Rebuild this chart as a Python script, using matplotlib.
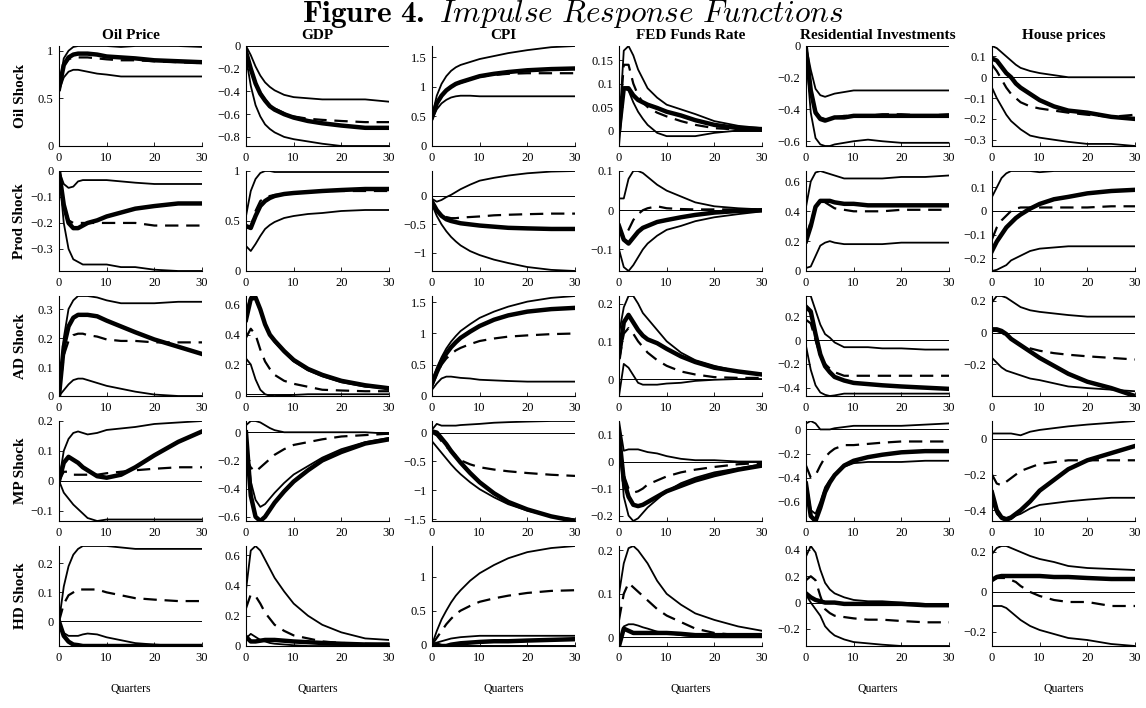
import matplotlib
matplotlib.use('Agg')
import matplotlib.pyplot as plt
from matplotlib.ticker import FuncFormatter

plt.rcParams['font.family'] = ['Liberation Serif', 'DejaVu Serif']
plt.rcParams['mathtext.fontset'] = 'custom'
plt.rcParams['mathtext.rm'] = 'cmr10'
plt.rcParams['mathtext.it'] = 'cmmi10'
plt.rcParams['mathtext.bf'] = 'cmb10'
plt.rcParams['axes.unicode_minus'] = True

quarters = [0, 1, 2, 3, 4, 5, 6, 8, 10, 13, 16, 20, 25, 30]
variables = ['Oil Price', 'GDP', 'CPI', 'FED Funds Rate',
             'Residential Investments', 'House prices']
shock_names = ['Oil Shock', 'Prod Shock', 'AD Shock', 'MP Shock', 'HD Shock']

# each shock: one list per variable (Oil Price ... House prices)
# mid = thick solid, alt = dashed, hi / lo = thin solid bands

# --- oil shock ---
oil_mid = [
    [0.6, 0.85, 0.93, 0.96, 0.97, 0.97, 0.97, 0.96, 0.94, 0.93, 0.92, 0.90, 0.89, 0.88],
    [-0.05, -0.2, -0.33, -0.42, -0.48, -0.53, -0.56, -0.60, -0.63, -0.66, -0.68, -0.70, -0.72, -0.72],
    [0.48, 0.72, 0.85, 0.94, 1.0, 1.05, 1.08, 1.13, 1.18, 1.22, 1.25, 1.28, 1.30, 1.31],
    [0.0, 0.09, 0.09, 0.075, 0.065, 0.06, 0.055, 0.048, 0.04, 0.032, 0.022, 0.012, 0.005, 0.003],
    [-0.02, -0.28, -0.42, -0.46, -0.47, -0.46, -0.45, -0.45, -0.44, -0.44, -0.44, -0.44, -0.44, -0.44],
    [0.09, 0.08, 0.05, 0.02, 0.0, -0.03, -0.05, -0.08, -0.11, -0.14, -0.16, -0.17, -0.19, -0.20],
]
oil_alt = [
    [0.6, 0.85, 0.91, 0.93, 0.93, 0.93, 0.93, 0.92, 0.91, 0.90, 0.90, 0.89, 0.88, 0.87],
    [-0.05, -0.2, -0.32, -0.41, -0.47, -0.52, -0.55, -0.59, -0.62, -0.64, -0.65, -0.66, -0.67, -0.67],
    [0.48, 0.72, 0.85, 0.93, 1.0, 1.04, 1.07, 1.12, 1.17, 1.20, 1.22, 1.23, 1.23, 1.23],
    [0.0, 0.14, 0.14, 0.10, 0.075, 0.06, 0.05, 0.038, 0.03, 0.02, 0.012, 0.005, 0.002, 0.002],
    [-0.02, -0.27, -0.41, -0.45, -0.46, -0.46, -0.45, -0.44, -0.44, -0.44, -0.43, -0.43, -0.44, -0.43],
    [0.06, 0.03, -0.01, -0.05, -0.08, -0.10, -0.12, -0.14, -0.15, -0.16, -0.17, -0.18, -0.19, -0.18],
]
oil_hi = [
    [0.62, 0.92, 1.0, 1.04, 1.05, 1.05, 1.05, 1.05, 1.05, 1.04, 1.05, 1.05, 1.05, 1.04],
    [0.0, -0.08, -0.18, -0.26, -0.32, -0.36, -0.39, -0.43, -0.45, -0.46, -0.47, -0.47, -0.47, -0.49],
    [0.5, 0.85, 1.05, 1.18, 1.27, 1.33, 1.37, 1.42, 1.47, 1.52, 1.57, 1.62, 1.67, 1.69],
    [0.0, 0.17, 0.18, 0.16, 0.13, 0.11, 0.09, 0.07, 0.055, 0.045, 0.035, 0.02, 0.01, 0.005],
    [0.0, -0.15, -0.27, -0.31, -0.32, -0.31, -0.30, -0.29, -0.28, -0.28, -0.28, -0.28, -0.28, -0.28],
    [0.15, 0.14, 0.12, 0.10, 0.08, 0.06, 0.045, 0.03, 0.02, 0.01, 0.0, 0.0, 0.0, 0.0],
]
oil_lo = [
    [0.58, 0.72, 0.78, 0.80, 0.80, 0.79, 0.78, 0.76, 0.75, 0.73, 0.73, 0.73, 0.73, 0.73],
    [-0.1, -0.35, -0.52, -0.62, -0.69, -0.73, -0.76, -0.80, -0.82, -0.84, -0.86, -0.88, -0.88, -0.88],
    [0.45, 0.62, 0.72, 0.78, 0.82, 0.84, 0.85, 0.85, 0.84, 0.84, 0.84, 0.84, 0.84, 0.84],
    [-0.033, 0.09, 0.085, 0.06, 0.04, 0.025, 0.012, -0.005, -0.012, -0.012, -0.012, -0.005, 0.0, 0.0],
    [-0.05, -0.42, -0.58, -0.62, -0.63, -0.63, -0.62, -0.61, -0.60, -0.59, -0.60, -0.61, -0.61, -0.61],
    [-0.05, -0.10, -0.14, -0.18, -0.21, -0.23, -0.25, -0.28, -0.29, -0.30, -0.31, -0.32, -0.32, -0.33],
]
oil_ticks = [[0, 0.5, 1], [-0.8, -0.6, -0.4, -0.2, 0], [0, 0.5, 1, 1.5],
             [0, 0.05, 0.1, 0.15], [-0.6, -0.4, -0.2, 0], [-0.3, -0.2, -0.1, 0, 0.1]]

# --- productivity shock ---
prod_mid = [
    [0.0, -0.13, -0.2, -0.22, -0.22, -0.21, -0.2, -0.19, -0.175, -0.16, -0.145, -0.135, -0.125, -0.125],
    [0.45, 0.43, 0.55, 0.65, 0.70, 0.73, 0.75, 0.77, 0.78, 0.79, 0.80, 0.81, 0.82, 0.82],
    [-0.1, -0.25, -0.35, -0.41, -0.44, -0.46, -0.48, -0.50, -0.52, -0.54, -0.56, -0.57, -0.58, -0.58],
    [-0.04, -0.075, -0.085, -0.07, -0.055, -0.045, -0.04, -0.03, -0.025, -0.018, -0.012, -0.006, -0.002, 0.0],
    [0.2, 0.3, 0.43, 0.47, 0.47, 0.47, 0.46, 0.45, 0.45, 0.44, 0.44, 0.44, 0.44, 0.44],
    [-0.17, -0.13, -0.10, -0.07, -0.05, -0.03, -0.015, 0.01, 0.03, 0.05, 0.06, 0.075, 0.085, 0.09],
]
prod_alt = [
    [0.0, -0.13, -0.19, -0.2, -0.2, -0.2, -0.2, -0.2, -0.2, -0.2, -0.2, -0.21, -0.21, -0.21],
    [0.45, 0.44, 0.60, 0.70, 0.73, 0.75, 0.76, 0.77, 0.78, 0.79, 0.80, 0.80, 0.80, 0.80],
    [-0.1, -0.25, -0.33, -0.37, -0.39, -0.39, -0.38, -0.37, -0.36, -0.34, -0.33, -0.32, -0.31, -0.31],
    [-0.04, -0.07, -0.05, -0.025, -0.01, 0.0, 0.005, 0.01, 0.005, 0.003, 0.002, 0.002, 0.002, 0.002],
    [0.23, 0.33, 0.43, 0.46, 0.46, 0.44, 0.42, 0.41, 0.40, 0.40, 0.40, 0.41, 0.41, 0.41],
    [-0.12, -0.07, -0.04, -0.02, 0.0, 0.01, 0.015, 0.015, 0.015, 0.015, 0.015, 0.015, 0.02, 0.02],
]
prod_hi = [
    [0.0, -0.05, -0.065, -0.06, -0.04, -0.035, -0.035, -0.035, -0.035, -0.04, -0.045, -0.05, -0.05, -0.05],
    [0.55, 0.8, 0.92, 0.98, 1.0, 1.0, 0.99, 0.99, 0.99, 0.99, 0.99, 0.99, 0.99, 0.99],
    [-0.05, -0.10, -0.07, -0.02, 0.02, 0.07, 0.12, 0.2, 0.27, 0.32, 0.36, 0.40, 0.43, 0.44],
    [0.03, 0.03, 0.08, 0.1, 0.1, 0.095, 0.085, 0.065, 0.05, 0.035, 0.02, 0.01, 0.005, 0.002],
    [0.43, 0.60, 0.66, 0.67, 0.66, 0.65, 0.64, 0.62, 0.62, 0.62, 0.62, 0.63, 0.63, 0.64],
    [0.06, 0.10, 0.14, 0.16, 0.17, 0.17, 0.17, 0.17, 0.165, 0.17, 0.17, 0.17, 0.17, 0.17],
]
prod_lo = [
    [0.0, -0.2, -0.3, -0.34, -0.35, -0.36, -0.36, -0.36, -0.36, -0.37, -0.37, -0.38, -0.385, -0.385],
    [0.25, 0.2, 0.27, 0.35, 0.42, 0.46, 0.49, 0.53, 0.55, 0.57, 0.58, 0.60, 0.61, 0.61],
    [-0.15, -0.35, -0.5, -0.62, -0.72, -0.8, -0.87, -0.97, -1.04, -1.12, -1.18, -1.25, -1.3, -1.32],
    [-0.1, -0.145, -0.155, -0.14, -0.12, -0.1, -0.085, -0.065, -0.05, -0.04, -0.028, -0.018, -0.01, -0.003],
    [0.02, 0.03, 0.1, 0.17, 0.19, 0.2, 0.19, 0.18, 0.18, 0.18, 0.18, 0.19, 0.19, 0.19],
    [-0.255, -0.25, -0.24, -0.23, -0.21, -0.2, -0.19, -0.17, -0.16, -0.155, -0.15, -0.15, -0.15, -0.15],
]
prod_ticks = [[-0.3, -0.2, -0.1, 0], [0, 0.5, 1], [-1, -0.5, 0],
              [-0.1, 0, 0.1], [0, 0.2, 0.4, 0.6], [-0.2, -0.1, 0, 0.1]]

# --- aggregate demand shock ---
ad_mid = [
    [0.0, 0.17, 0.24, 0.27, 0.28, 0.28, 0.28, 0.275, 0.26, 0.24, 0.22, 0.195, 0.17, 0.145],
    [0.5, 0.64, 0.65, 0.57, 0.47, 0.40, 0.36, 0.29, 0.23, 0.17, 0.13, 0.09, 0.06, 0.04],
    [0.2, 0.38, 0.55, 0.68, 0.78, 0.86, 0.93, 1.03, 1.12, 1.22, 1.29, 1.35, 1.39, 1.41],
    [0.06, 0.15, 0.17, 0.15, 0.13, 0.115, 0.105, 0.095, 0.08, 0.06, 0.045, 0.03, 0.02, 0.012],
    [0.28, 0.24, 0.05, -0.12, -0.22, -0.27, -0.31, -0.34, -0.36, -0.37, -0.38, -0.39, -0.40, -0.41],
    [0.02, 0.02, 0.01, -0.01, -0.04, -0.06, -0.08, -0.12, -0.16, -0.21, -0.26, -0.31, -0.35, -0.40],
]
ad_alt = [
    [0.0, 0.14, 0.19, 0.21, 0.215, 0.215, 0.21, 0.205, 0.195, 0.19, 0.19, 0.185, 0.185, 0.185],
    [0.38, 0.44, 0.40, 0.30, 0.22, 0.17, 0.13, 0.09, 0.07, 0.05, 0.03, 0.025, 0.02, 0.02],
    [0.15, 0.35, 0.50, 0.60, 0.67, 0.73, 0.77, 0.83, 0.88, 0.92, 0.95, 0.97, 0.99, 1.0],
    [0.05, 0.12, 0.135, 0.12, 0.10, 0.085, 0.07, 0.05, 0.035, 0.02, 0.012, 0.005, 0.003, 0.003],
    [0.17, 0.14, 0.0, -0.13, -0.2, -0.24, -0.27, -0.3, -0.3, -0.3, -0.3, -0.3, -0.3, -0.3],
    [0.01, 0.01, 0.0, -0.02, -0.04, -0.06, -0.08, -0.10, -0.115, -0.13, -0.14, -0.15, -0.16, -0.17],
]
ad_hi = [
    [0.0, 0.2, 0.3, 0.33, 0.345, 0.345, 0.345, 0.34, 0.33, 0.32, 0.32, 0.32, 0.325, 0.325],
    [0.55, 0.66, 0.64, 0.56, 0.47, 0.40, 0.35, 0.28, 0.22, 0.16, 0.12, 0.08, 0.05, 0.04],
    [0.25, 0.45, 0.62, 0.76, 0.87, 0.96, 1.04, 1.15, 1.25, 1.35, 1.43, 1.51, 1.57, 1.60],
    [0.12, 0.19, 0.22, 0.22, 0.20, 0.175, 0.16, 0.13, 0.10, 0.07, 0.05, 0.035, 0.02, 0.01],
    [0.37, 0.37, 0.25, 0.13, 0.05, 0.02, -0.02, -0.06, -0.06, -0.06, -0.07, -0.07, -0.08, -0.08],
    [0.19, 0.23, 0.23, 0.22, 0.20, 0.18, 0.16, 0.14, 0.13, 0.12, 0.11, 0.10, 0.10, 0.10],
]
ad_lo = [
    [0.0, 0.02, 0.04, 0.055, 0.06, 0.06, 0.055, 0.045, 0.035, 0.025, 0.015, 0.005, 0.0, 0.0],
    [0.24, 0.2, 0.1, 0.03, 0.0, -0.01, -0.012, -0.008, -0.005, 0.0, 0.0, 0.0, 0.0, 0.0],
    [0.1, 0.2, 0.28, 0.31, 0.31, 0.30, 0.29, 0.28, 0.26, 0.25, 0.24, 0.23, 0.23, 0.23],
    [-0.045, 0.04, 0.03, 0.01, -0.01, -0.015, -0.015, -0.015, -0.012, -0.01, -0.005, -0.002, 0.0, 0.0],
    [-0.05, -0.25, -0.38, -0.44, -0.46, -0.47, -0.465, -0.45, -0.45, -0.45, -0.45, -0.45, -0.45, -0.45],
    [-0.16, -0.19, -0.22, -0.24, -0.25, -0.26, -0.27, -0.29, -0.30, -0.32, -0.34, -0.35, -0.36, -0.37],
]
ad_ticks = [[0, 0.1, 0.2, 0.3], [0, 0.2, 0.4, 0.6], [0, 0.5, 1, 1.5],
            [0, 0.1, 0.2], [-0.4, -0.2, 0, 0.2], [-0.2, 0, 0.2]]

# --- monetary policy shock ---
mp_mid = [
    [0.0, 0.06, 0.08, 0.07, 0.06, 0.045, 0.035, 0.015, 0.01, 0.02, 0.045, 0.085, 0.13, 0.165],
    [0.0, -0.45, -0.6, -0.63, -0.6, -0.55, -0.5, -0.42, -0.35, -0.27, -0.2, -0.14, -0.08, -0.05],
    [0.02, 0.0, -0.1, -0.2, -0.32, -0.42, -0.52, -0.7, -0.86, -1.05, -1.2, -1.33, -1.45, -1.53],
    [0.1, -0.07, -0.13, -0.16, -0.165, -0.16, -0.15, -0.13, -0.11, -0.09, -0.07, -0.05, -0.03, -0.015],
    [-0.45, -0.72, -0.76, -0.65, -0.52, -0.44, -0.38, -0.3, -0.26, -0.23, -0.21, -0.19, -0.18, -0.18],
    [-0.3, -0.4, -0.44, -0.45, -0.44, -0.42, -0.4, -0.35, -0.29, -0.23, -0.17, -0.12, -0.08, -0.04],
]
mp_alt = [
    [0.0, 0.03, 0.03, 0.02, 0.02, 0.02, 0.02, 0.02, 0.025, 0.03, 0.035, 0.04, 0.045, 0.045],
    [-0.18, -0.25, -0.28, -0.25, -0.22, -0.19, -0.16, -0.12, -0.09, -0.07, -0.05, -0.03, -0.02, -0.01],
    [0.0, -0.05, -0.15, -0.25, -0.3, -0.4, -0.48, -0.55, -0.6, -0.64, -0.67, -0.7, -0.73, -0.75],
    [0.1, -0.05, -0.1, -0.115, -0.11, -0.1, -0.085, -0.07, -0.055, -0.04, -0.03, -0.02, -0.01, -0.005],
    [-0.3, -0.4, -0.38, -0.3, -0.23, -0.19, -0.16, -0.13, -0.13, -0.12, -0.11, -0.1, -0.1, -0.1],
    [-0.2, -0.25, -0.26, -0.24, -0.22, -0.2, -0.18, -0.16, -0.14, -0.13, -0.12, -0.12, -0.12, -0.12],
]
mp_hi = [
    [0.0, 0.1, 0.14, 0.16, 0.165, 0.16, 0.155, 0.16, 0.17, 0.175, 0.18, 0.19, 0.195, 0.2],
    [0.05, 0.08, 0.08, 0.07, 0.05, 0.03, 0.015, 0.0, 0.0, 0.0, 0.0, 0.0, 0.0, -0.01],
    [0.05, 0.15, 0.12, 0.12, 0.12, 0.12, 0.13, 0.14, 0.15, 0.17, 0.18, 0.19, 0.2, 0.2],
    [0.15, 0.04, 0.045, 0.045, 0.045, 0.04, 0.035, 0.03, 0.02, 0.01, 0.005, 0.005, 0.0, 0.0],
    [0.05, 0.07, 0.05, 0.0, 0.0, 0.0, 0.01, 0.02, 0.03, 0.03, 0.03, 0.03, 0.04, 0.05],
    [0.03, 0.03, 0.03, 0.03, 0.03, 0.025, 0.02, 0.04, 0.05, 0.06, 0.07, 0.08, 0.09, 0.1],
]
mp_lo = [
    [0.0, -0.04, -0.06, -0.08, -0.095, -0.11, -0.125, -0.135, -0.13, -0.13, -0.13, -0.13, -0.13, -0.13],
    [0.0, -0.35, -0.48, -0.53, -0.51, -0.47, -0.43, -0.36, -0.3, -0.24, -0.18, -0.12, -0.07, -0.04],
    [-0.15, -0.25, -0.35, -0.45, -0.55, -0.64, -0.72, -0.86, -0.98, -1.12, -1.24, -1.35, -1.45, -1.5],
    [0.1, -0.13, -0.2, -0.22, -0.21, -0.19, -0.17, -0.14, -0.11, -0.08, -0.06, -0.04, -0.025, -0.01],
    [-0.42, -0.67, -0.7, -0.6, -0.48, -0.42, -0.37, -0.31, -0.28, -0.27, -0.27, -0.27, -0.26, -0.26],
    [-0.35, -0.42, -0.45, -0.46, -0.45, -0.43, -0.42, -0.39, -0.37, -0.36, -0.35, -0.34, -0.33, -0.33],
]
mp_ticks = [[-0.1, 0, 0.1, 0.2], [-0.6, -0.4, -0.2, 0], [-1.5, -1, -0.5, 0],
            [-0.2, -0.1, 0, 0.1], [-0.6, -0.4, -0.2, 0], [-0.4, -0.2, 0]]

# --- housing demand shock ---
hd_mid = [
    [0.0, -0.05, -0.07, -0.08, -0.082, -0.085, -0.085, -0.085, -0.085, -0.085, -0.085, -0.085, -0.085, -0.085],
    [0.06, 0.03, 0.03, 0.035, 0.04, 0.04, 0.04, 0.035, 0.03, 0.025, 0.02, 0.015, 0.01, 0.01],
    [0.0, 0.0, -0.02, -0.02, 0.0, 0.01, 0.02, 0.03, 0.04, 0.05, 0.05, 0.06, 0.07, 0.08],
    [-0.02, 0.02, 0.015, 0.01, 0.01, 0.01, 0.01, 0.01, 0.01, 0.008, 0.005, 0.005, 0.005, 0.005],
    [0.07, 0.04, 0.02, 0.01, 0.0, 0.0, 0.0, -0.01, -0.01, -0.01, -0.01, -0.01, -0.02, -0.02],
    [0.06, 0.075, 0.08, 0.08, 0.08, 0.08, 0.08, 0.08, 0.08, 0.075, 0.075, 0.07, 0.065, 0.065],
]
hd_alt = [
    [0.0, 0.06, 0.09, 0.1, 0.11, 0.11, 0.11, 0.11, 0.1, 0.09, 0.08, 0.075, 0.07, 0.07],
    [0.25, 0.34, 0.33, 0.28, 0.22, 0.18, 0.14, 0.1, 0.07, 0.05, 0.03, 0.02, 0.015, 0.01],
    [0.0, 0.1, 0.2, 0.3, 0.38, 0.45, 0.5, 0.57, 0.63, 0.68, 0.72, 0.76, 0.79, 0.8],
    [0.04, 0.1, 0.125, 0.115, 0.105, 0.095, 0.085, 0.065, 0.05, 0.035, 0.02, 0.01, 0.005, 0.005],
    [0.17, 0.2, 0.17, 0.05, -0.05, -0.08, -0.1, -0.11, -0.12, -0.13, -0.13, -0.14, -0.15, -0.15],
    [0.06, 0.07, 0.07, 0.07, 0.06, 0.05, 0.03, 0.0, -0.02, -0.04, -0.05, -0.05, -0.07, -0.07],
]
hd_hi = [
    [0.0, 0.12, 0.19, 0.23, 0.25, 0.26, 0.26, 0.26, 0.26, 0.255, 0.25, 0.25, 0.25, 0.25],
    [0.37, 0.63, 0.66, 0.63, 0.57, 0.51, 0.45, 0.36, 0.28, 0.2, 0.14, 0.09, 0.05, 0.04],
    [0.0, 0.2, 0.37, 0.5, 0.62, 0.72, 0.8, 0.94, 1.05, 1.17, 1.27, 1.36, 1.42, 1.45],
    [0.1, 0.17, 0.205, 0.21, 0.2, 0.185, 0.17, 0.13, 0.1, 0.075, 0.055, 0.04, 0.025, 0.015],
    [0.35, 0.43, 0.38, 0.25, 0.15, 0.1, 0.07, 0.04, 0.02, 0.01, 0.01, 0.0, -0.01, -0.02],
    [0.19, 0.22, 0.23, 0.23, 0.22, 0.21, 0.2, 0.18, 0.165, 0.15, 0.13, 0.12, 0.115, 0.11],
]
hd_lo = [
    [0.0, -0.04, -0.05, -0.05, -0.05, -0.045, -0.042, -0.045, -0.055, -0.065, -0.075, -0.08, -0.085, -0.085],
    [0.05, 0.08, 0.06, 0.04, 0.03, 0.02, 0.015, 0.01, 0.005, 0.0, 0.0, 0.0, 0.0, 0.0],
    [0.0, 0.03, 0.05, 0.07, 0.09, 0.1, 0.11, 0.12, 0.13, 0.13, 0.13, 0.13, 0.13, 0.13],
    [-0.02, 0.025, 0.03, 0.03, 0.027, 0.023, 0.02, 0.013, 0.01, 0.005, 0.002, 0.0, 0.0, 0.0],
    [0.06, 0.0, -0.05, -0.1, -0.18, -0.22, -0.25, -0.28, -0.3, -0.31, -0.32, -0.33, -0.33, -0.33],
    [-0.07, -0.07, -0.07, -0.08, -0.1, -0.12, -0.14, -0.17, -0.19, -0.21, -0.23, -0.24, -0.26, -0.27],
]
hd_ticks = [[0, 0.1, 0.2], [0, 0.2, 0.4, 0.6], [0, 0.5, 1],
            [0, 0.1, 0.2], [-0.2, 0, 0.2, 0.4], [-0.2, 0, 0.2]]

shocks = [
    (oil_mid, oil_alt, oil_hi, oil_lo, oil_ticks),
    (prod_mid, prod_alt, prod_hi, prod_lo, prod_ticks),
    (ad_mid, ad_alt, ad_hi, ad_lo, ad_ticks),
    (mp_mid, mp_alt, mp_hi, mp_lo, mp_ticks),
    (hd_mid, hd_alt, hd_hi, hd_lo, hd_ticks),
]

W, H = 1146, 708
fig = plt.figure(figsize=(W / 100, H / 100), dpi=100)

# panel geometry in pixels
lefts = [59, 246, 432, 619, 806, 992]
pw, ph = 143, 100
bottoms = [146, 271, 396, 521, 646]

fmt = FuncFormatter(lambda v, _: f'{v:g}'.replace('-', '\u2212'))

for r, (mid, alt, hi, lo, ticks) in enumerate(shocks):
    for c in range(6):
        ax = fig.add_axes([lefts[c] / W, 1 - bottoms[r] / H, pw / W, ph / H])
        series = [hi[c], lo[c], alt[c], mid[c]]
        ymin = min(0, min(min(s) for s in series))
        ymax = max(0, max(max(s) for s in series))
        ax.plot(quarters, hi[c], color='k', lw=1.3)
        ax.plot(quarters, lo[c], color='k', lw=1.3)
        ax.plot(quarters, alt[c], color='k', lw=1.6, ls=(0, (6, 3.5)))
        ax.plot(quarters, mid[c], color='k', lw=3.2, solid_joinstyle='round')
        ax.axhline(0, color='k', lw=0.7)
        ax.set_xlim(0, 30)
        ax.set_ylim(ymin, ymax)
        ax.set_xticks([0, 10, 20, 30])
        ax.set_yticks(ticks[c])
        ax.yaxis.set_major_formatter(fmt)
        for side in ['top', 'right']:
            ax.spines[side].set_visible(False)
        for side in ['left', 'bottom']:
            ax.spines[side].set_linewidth(0.8)
        ax.tick_params(direction='in', length=3, width=0.6, labelsize=9, pad=4)
        if r == 0:
            ax.set_title(variables[c], fontsize=11, fontweight='bold', pad=5)
        if r == 4:
            ax.set_xlabel('Quarters', fontsize=8.5, labelpad=14)
    fig.text(20 / W, 1 - (bottoms[r] - ph / 2) / H, shock_names[r], rotation=90,
             ha='center', va='center', fontsize=11, fontweight='bold')

fig.text(0.5, 1 - 22 / H,
         r'$\mathbf{Figure\ 4.}\ \mathit{Impulse\ Response\ Functions}$',
         ha='center', va='baseline', fontsize=22.5)

fig.savefig('out.png', dpi=100)
